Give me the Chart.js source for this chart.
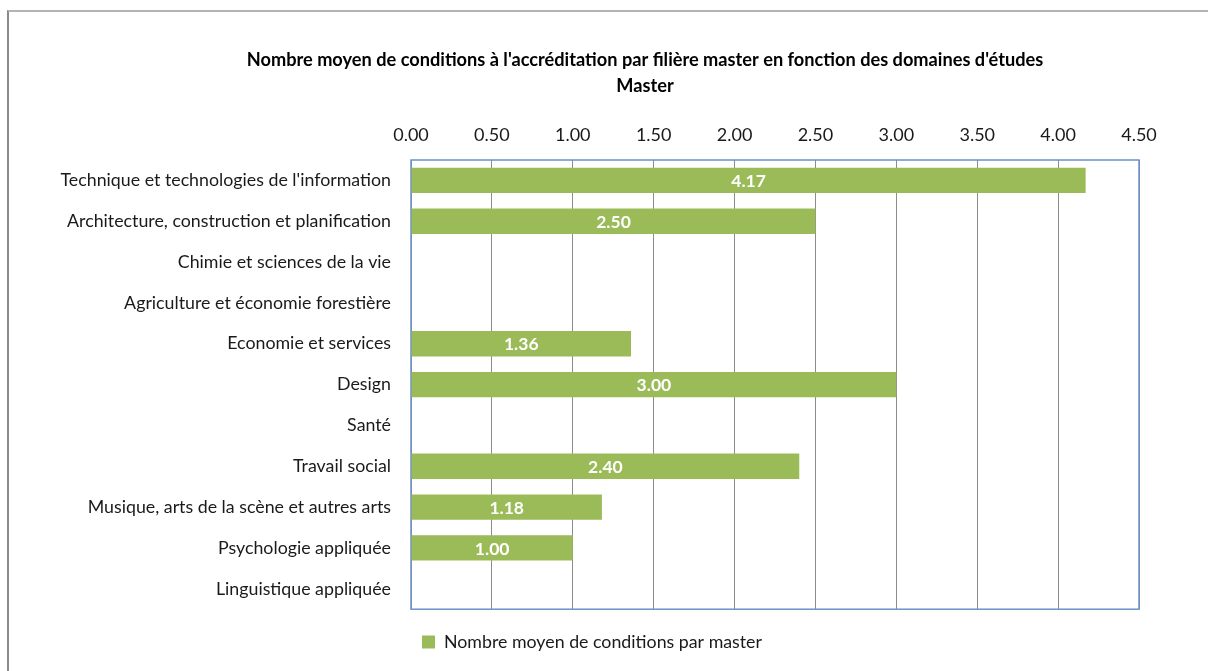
<!DOCTYPE html>
<html>
<head>
<meta charset="utf-8">
<script src="https://cdn.jsdelivr.net/npm/chart.js@4/dist/chart.umd.min.js"></script>
<style>
  html, body { margin: 0; padding: 0; background: #fff; overflow: hidden; }
  #wrap { position: relative; width: 1208px; height: 671px; }
  #frame { position: absolute; left: 7px; top: 10px; width: 1220px; height: 700px;
           border-left: 2px solid #8a8a8a; border-top: 2px solid #b4b4b4; }
  canvas { position: absolute; left: 0; top: 0; }
</style>
</head>
<body>
<div id="wrap">
  <div id="frame"></div>
  <canvas id="chart" width="1208" height="671"></canvas>
</div>
<script>
const titleLines = ["Nombre moyen de conditions à l'accréditation par filière master en fonction des domaines d'études", "Master"];
const seriesName = 'Nombre moyen de conditions par master';
const domains = [
  "Technique et technologies de l'information",
  'Architecture, construction et planification',
  'Chimie et sciences de la vie',
  'Agriculture et économie forestière',
  'Economie et services',
  'Design',
  'Santé',
  'Travail social',
  'Musique, arts de la scène et autres arts',
  'Psychologie appliquée',
  'Linguistique appliquée'
];
const avgConditions = [4.17, 2.50, null, null, 1.36, 3.00, null, 2.40, 1.18, 1.00, null];
const xMin = 0, xMax = 4.5, xStep = 0.5;

const FONT = 'Lato, "Open Sans", sans-serif';
const PAD_L = 45, PAD_R = 69;

// titre sur deux lignes, centré comme dans l'original
const chartTitle = {
  id: 'chartTitle',
  afterDraw(chart) {
    const c = chart.ctx;
    c.save();
    c.fillStyle = '#000';
    c.font = 'bold 18.2px ' + FONT;
    c.textAlign = 'center';
    c.textBaseline = 'middle';
    c.fillText(titleLines[0], 645, 60);
    c.fillText(titleLines[1], 645, 86);
    c.restore();
  }
};

// cadre bleu autour de la zone de tracé
const plotBorder = {
  id: 'plotBorder',
  beforeDatasetsDraw(chart) {
    const a = chart.chartArea, c = chart.ctx;
    c.save();
    c.strokeStyle = '#6a92c9';
    c.lineWidth = 1.5;
    c.strokeRect(a.left, a.top, a.right - a.left, a.bottom - a.top);
    c.restore();
  }
};

// étiquettes de valeur blanches au centre des barres
const barLabels = {
  id: 'barLabels',
  afterDatasetsDraw(chart) {
    const c = chart.ctx;
    const meta = chart.getDatasetMeta(0);
    c.save();
    c.fillStyle = '#fff';
    c.font = 'bold 17.5px ' + FONT;
    c.textAlign = 'center';
    c.textBaseline = 'middle';
    meta.data.forEach((bar, i) => {
      const v = avgConditions[i];
      if (v == null) return;
      c.fillText(v.toFixed(2), (bar.x + bar.base) / 2, bar.y + 1);
    });
    c.restore();
  }
};

new Chart(document.getElementById('chart'), {
  type: 'bar',
  data: {
    labels: domains,
    datasets: [{
      label: seriesName,
      data: avgConditions,
      backgroundColor: '#9bbb59',
      borderWidth: 0,
      barPercentage: 0.62,
      categoryPercentage: 1
    }]
  },
  options: {
    indexAxis: 'y',
    responsive: false,
    animation: false,
    layout: { padding: { top: 98, right: PAD_R, bottom: 10, left: PAD_L } },
    scales: {
      x: {
        position: 'top',
        min: xMin, max: xMax,
        ticks: {
          stepSize: xStep,
          padding: 14,
          color: '#1a1a1a',
          font: { family: FONT, size: 18 },
          callback: v => v.toFixed(2)
        },
        grid: { color: '#8c8c8c', drawTicks: false, lineWidth: 1 },
        border: { display: false },
        afterFit: s => { s.height = 62; }
      },
      y: {
        ticks: {
          padding: 12,
          color: '#1a1a1a',
          font: { family: FONT, size: 17.8 }
        },
        grid: { display: false },
        border: { display: false },
        afterFit: s => { s.width = 411 - PAD_L; }
      }
    },
    plugins: {
      title: { display: false },
      legend: {
        position: 'bottom',
        labels: {
          boxWidth: 13, boxHeight: 13,
          padding: 24,
          color: '#1a1a1a',
          font: { family: FONT, size: 17.8 }
        }
      },
      tooltip: { enabled: false }
    }
  },
  plugins: [plotBorder, barLabels, chartTitle]
});
</script>
</body>
</html>
